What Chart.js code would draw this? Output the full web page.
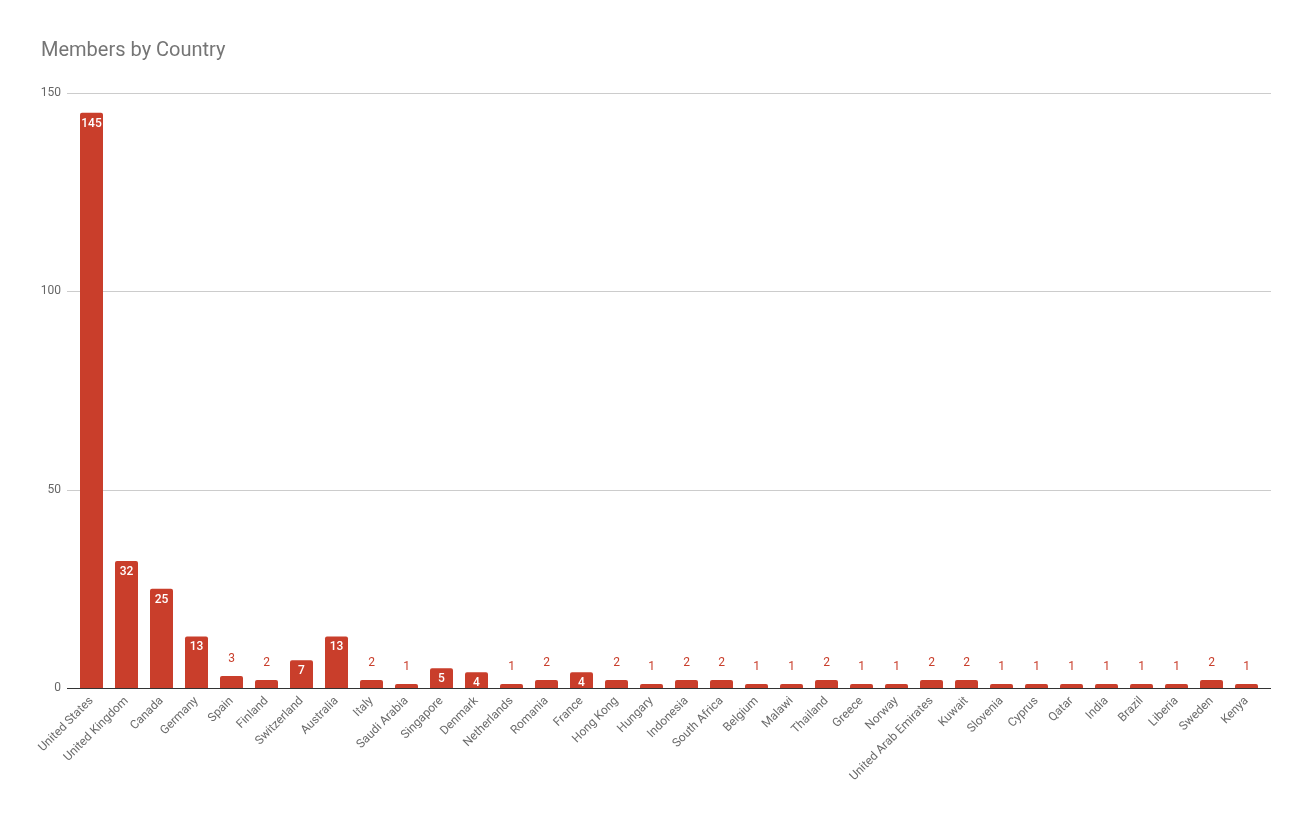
<!DOCTYPE html>
<html>
<head>
<meta charset="utf-8">
<title>Members by Country</title>
<script src="https://cdn.jsdelivr.net/npm/chart.js@4.4.1/dist/chart.umd.min.js"></script>
<style>
  html, body { margin: 0; padding: 0; background: #fff; }
  #wrap { width: 1311px; height: 819px; position: relative; }
</style>
</head>
<body>
<div id="wrap"><canvas id="chart"></canvas></div>
<script>
    const countries = [
        'United States', 'United Kingdom', 'Canada', 'Germany', 'Spain', 'Finland',
        'Switzerland', 'Australia', 'Italy', 'Saudi Arabia', 'Singapore', 'Denmark',
        'Netherlands', 'Romania', 'France', 'Hong Kong', 'Hungary', 'Indonesia',
        'South Africa', 'Belgium', 'Malawi', 'Thailand', 'Greece', 'Norway',
        'United Arab Emirates', 'Kuwait', 'Slovenia', 'Cyprus', 'Qatar', 'India',
        'Brazil', 'Liberia', 'Sweden', 'Kenya'
    ];
    const members = [
        145, 32, 25, 13, 3, 2,
        7, 13, 2, 1, 5, 4,
        1, 2, 4, 2, 1, 2,
        2, 1, 1, 2, 1, 1,
        2, 2, 1, 1, 1, 1,
        1, 1, 2, 1
    ];
    const yTicks = [0, 50, 100, 150];

    const barRed = '#c93e2b';
    const gridOverhang = 7; // grid lines run a bit past the outer bars

    // horizontal gridlines + baseline, a little wider than the bar area
    const wideGrid = {
        id: 'wideGrid',
        beforeDatasetsDraw(chart) {
            const ctx = chart.ctx;
            const area = chart.chartArea;
            const y = chart.scales.y;
            const x0 = area.left - gridOverhang;
            const x1 = area.right + gridOverhang;
            ctx.save();
            yTicks.forEach(v => {
                const py = Math.round(y.getPixelForValue(v)) + 0.5;
                ctx.strokeStyle = v === 0 ? '#333333' : '#cccccc';
                ctx.lineWidth = 1;
                ctx.beginPath();
                ctx.moveTo(x0, py);
                ctx.lineTo(x1, py);
                ctx.stroke();
            });
            ctx.restore();
        },
        afterDatasetsDraw(chart) {
            const ctx = chart.ctx;
            const area = chart.chartArea;
            const py = Math.round(chart.scales.y.getPixelForValue(0)) + 0.5;
            ctx.save();
            ctx.strokeStyle = '#333333';
            ctx.lineWidth = 1;
            ctx.beginPath();
            ctx.moveTo(area.left - gridOverhang, py);
            ctx.lineTo(area.right + gridOverhang, py);
            ctx.stroke();
            ctx.restore();
        }
    };

    // value labels: white inside tall bars, red above short ones
    const barLabels = {
        id: 'barLabels',
        afterDatasetsDraw(chart) {
            const ctx = chart.ctx;
            const meta = chart.getDatasetMeta(0);
            ctx.save();
            ctx.textAlign = 'center';
            ctx.textBaseline = 'middle';
            meta.data.forEach((bar, i) => {
                const v = members[i];
                if (v >= 4) {
                    ctx.fillStyle = '#ffffff';
                    ctx.font = '500 12px Roboto';
                    ctx.fillText(String(v), bar.x, bar.y + 11);
                } else {
                    ctx.fillStyle = barRed;
                    ctx.font = '12px Roboto';
                    ctx.fillText(String(v), bar.x, bar.y - 17);
                }
            });
            ctx.restore();
        }
    };

    new Chart(document.getElementById('chart'), {
        type: 'bar',
        data: {
            labels: countries,
            datasets: [{
                label: 'Members',
                data: members,
                backgroundColor: barRed,
                borderWidth: 0,
                borderRadius: { topLeft: 2, topRight: 2 },
                borderSkipped: 'bottom',
                barPercentage: 0.657,
                categoryPercentage: 1
            }]
        },
        options: {
            responsive: true,
            maintainAspectRatio: false,
            animation: false,
            layout: { padding: { left: 41, right: 47, top: 39, bottom: 0 } },
            plugins: {
                legend: { display: false },
                tooltip: { enabled: false },
                title: {
                    display: true,
                    text: 'Members by Country',
                    align: 'start',
                    color: '#757575',
                    font: { family: 'Roboto', size: 20, weight: 'normal' },
                    padding: { top: 0, bottom: 30 }
                }
            },
            scales: {
                x: {
                    grid: { display: false, drawTicks: false },
                    border: { display: false },
                    ticks: {
                        autoSkip: false,
                        maxRotation: 45,
                        minRotation: 45,
                        padding: 6,
                        color: '#6b6b6b',
                        font: { family: 'Roboto', size: 12 }
                    },
                    afterFit(scale) { scale.height = 131; }
                },
                y: {
                    min: 0,
                    max: 150,
                    afterBuildTicks(scale) {
                        scale.ticks = yTicks.map(v => ({ value: v }));
                    },
                    grid: { display: false, drawTicks: false },
                    border: { display: false },
                    ticks: {
                        padding: 13,
                        color: '#666666',
                        font: { family: 'Roboto', size: 12 }
                    },
                    afterFit(scale) { scale.width = 33; }
                }
            }
        },
        plugins: [wideGrid, barLabels]
    });
</script>
</body>
</html>
